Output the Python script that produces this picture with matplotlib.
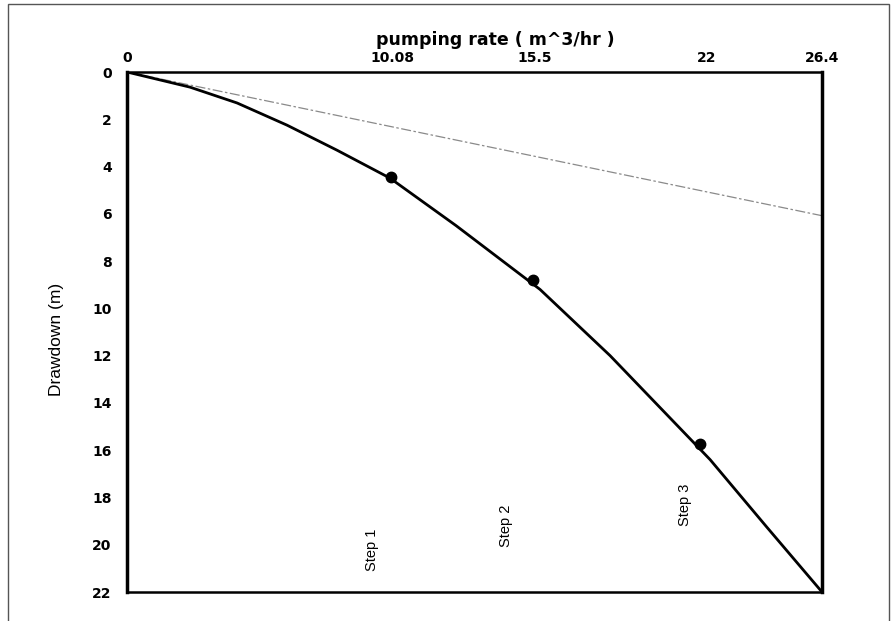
import matplotlib
matplotlib.use('Agg')
import matplotlib.pyplot as plt
from matplotlib.patches import Rectangle

# step drawdown test data
rate_ticks = [0, 10.08, 15.5, 22, 26.4]
rate_labels = ['0', '10.08', '15.5', '22', '26.4']

curve_rate = [0, 2.39, 4.18, 6.08, 7.98, 9.99, 12.5, 15.69, 18.35, 20.25, 22.15, 24.3, 26.4]
curve_draw = [0, 0.64, 1.31, 2.25, 3.31, 4.49, 6.5, 9.2, 12.0, 14.2, 16.4, 19.25, 22.0]

step_rate = [10.03, 15.42, 21.77]
step_draw = [4.45, 8.82, 15.75]

linear_rate = [0, 26.4]
linear_draw = [0, 6.08]

step_names = ['Step 1', 'Step 2', 'Step 3']
label_rate = [9.3, 14.4, 21.2]
label_draw = [20.2, 19.2, 18.3]

y_ticks = list(range(0, 23, 2))

plt.rcParams['font.family'] = ['Liberation Sans', 'DejaVu Sans']

fig = plt.figure(figsize=(8.96, 6.21), dpi=100)
ax = fig.add_axes([127/896, 1-592/621, 695/896, 520/621])

ax.plot(linear_rate, linear_draw, color='#8a8a8a', lw=0.9, ls=(0, (8, 2, 2, 2)))
ax.plot(curve_rate, curve_draw, color='black', lw=2)
ax.plot(step_rate, step_draw, 'o', color='black', ms=7.5)

for name, x, y in zip(step_names, label_rate, label_draw):
	ax.text(x, y, name, rotation=90, ha='center', va='center', fontsize=10.5)

ax.set_xlim(0, 26.4)
ax.set_ylim(22, 0)
ax.xaxis.tick_top()
ax.set_xticks(rate_ticks)
ax.set_xticklabels(rate_labels)
ax.set_yticks(y_ticks)
ax.tick_params(axis='y', length=0, pad=11)
ax.tick_params(axis='x', length=0, pad=5)
for lbl in ax.get_xticklabels() + ax.get_yticklabels():
	lbl.set_fontweight('bold')
	lbl.set_family('DejaVu Sans')
	lbl.set_fontsize(10)

ax.spines['left'].set_linewidth(2.5)
ax.spines['right'].set_linewidth(2.5)
ax.spines['top'].set_linewidth(1.8)
ax.spines['bottom'].set_linewidth(1.8)

fig.text(495/896, 1-40/621, 'pumping rate ( m^3/hr )', ha='center', va='center',
	fontsize=12.5, fontweight='bold', family='DejaVu Sans')
fig.text(56/896, 1-339/621, 'Drawdown (m)', rotation=90, ha='center', va='center',
	fontsize=12.5)

# outer frame around the whole picture
fig.patches.append(Rectangle((8/896, -0.01), 881/896, 1-4/621+0.01, transform=fig.transFigure,
	fill=False, edgecolor='#555555', lw=1))

fig.savefig('out.png', dpi=100)
